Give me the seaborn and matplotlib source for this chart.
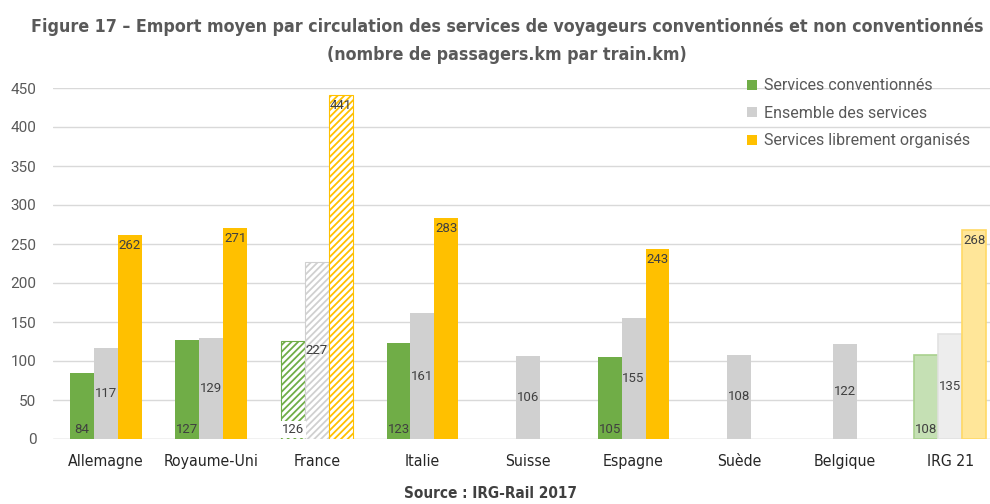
import matplotlib
matplotlib.use("Agg")
import matplotlib.pyplot as plt
from matplotlib.patches import Patch
from matplotlib import font_manager
import seaborn as sns
import pandas as pd

# Data: average load per train (passenger-km per train-km)
pays = ["Allemagne", "Royaume-Uni", "France", "Italie", "Suisse",
        "Espagne", "Suède", "Belgique", "IRG 21"]
conventionnes = [84, 127, 126, 123, None, 105, None, None, 108]
ensemble = [117, 129, 227, 161, 106, 155, 108, 122, 135]
libres = [262, 271, 441, 283, None, 243, None, None, 268]
series = ["Services conventionnés", "Ensemble des services",
          "Services librement organisés"]
yticks = [0, 50, 100, 150, 200, 250, 300, 350, 400, 450]

couleurs = ["#70AD47", "#D0D0D0", "#FFC000"]
couleurs_claires = ["#C5E0B4", "#EDEDED", "#FFE699"]
texte = "#404040"
gris_titre = "#595959"

rows = []
for s, vals in zip(series, [conventionnes, ensemble, libres]):
    for p, v in zip(pays, vals):
        if v is not None:
            rows.append({"pays": p, "serie": s, "valeur": v})
df = pd.DataFrame(rows)

sns.set_theme(style="white")
plt.rcParams["font.family"] = ["Roboto", "DejaVu Sans"]
plt.rcParams["hatch.linewidth"] = 1.3

# narrow face for title, categories and source
condensed = dict(family="DejaVu Sans", stretch="condensed")

fig = plt.figure(figsize=(9.9, 5.04), dpi=100)
ax = fig.add_axes([53 / 990, 1 - 439 / 504, 1 - 53 / 990, (439 - 88) / 504])

sns.barplot(data=df, x="pays", y="valeur", hue="serie", order=pays,
            hue_order=series, palette=couleurs, width=0.68, gap=0,
            saturation=1, errorbar=None, legend=False, ax=ax, zorder=3)

# restyle France (hatched) and IRG 21 (light) bars, then add labels
for k, cont in enumerate(ax.containers):
    vals = [conventionnes, ensemble, libres][k]
    for bar in cont:
        cx = bar.get_x() + bar.get_width() / 2
        i = int(round(cx))
        v = vals[i]
        bar.set_linewidth(0)
        if pays[i] == "France":
            bar.set_facecolor("white")
            bar.set_edgecolor(couleurs[k])
            bar.set_hatch("/////")
            bar.set_linewidth(0.8)
        elif pays[i] == "IRG 21":
            bar.set_facecolor(couleurs_claires[k])
            edge = {0: "#A9D18E", 1: "#E2E2E2", 2: "#FFD966"}[k]
            bar.set_edgecolor(edge)
            bar.set_linewidth(1.2)
        if k == 0:
            y, va = 4, "bottom"
        elif k == 1:
            y, va = v / 2, "center"
        else:
            y, va = v - 5, "top"
        bbox = None
        if pays[i] == "France" and k == 0:
            bbox = dict(facecolor="white", edgecolor="none", pad=1.5)
        ax.text(cx, y, f"{v:.0f}", ha="center", va=va, fontsize=9.5,
                color=texte, zorder=5, bbox=bbox)

ax.set_xlim(-0.5, 8.5 - 13 / 105.5)
ax.set_ylim(0, 450)
ax.set_yticks(yticks)
ax.yaxis.grid(True, color="#D9D9D9", linewidth=1)
ax.set_axisbelow(True)
for sp in ax.spines.values():
    sp.set_visible(False)
ax.axhline(0, color="#D9D9D9", linewidth=1, zorder=2)
ax.set_xlabel("")
ax.set_ylabel("")
ax.tick_params(axis="y", length=0, pad=12, labelsize=11, labelcolor=gris_titre)
ax.tick_params(axis="x", length=0, pad=11, labelcolor="#262626")
for lbl in ax.get_xticklabels():
    lbl.set_fontproperties(font_manager.FontProperties(size=11.3, **condensed))

handles = [Patch(facecolor=c, edgecolor="none") for c in couleurs]
fig.legend(handles, series, loc="upper left", bbox_to_anchor=(733 / 990, 1 - 64 / 504),
           frameon=False, fontsize=11.5, handlelength=0.6, handleheight=0.6,
           handletextpad=0.45, labelspacing=0.78, labelcolor=gris_titre)

fig.text(0.512, 1 - 27 / 504, "Figure 17 – Emport moyen par circulation des services de voyageurs conventionnés et non conventionnés",
         ha="center", va="center", fontsize=12.8, fontweight="bold",
         color=gris_titre, **condensed)
fig.text(0.512, 1 - 55 / 504, "(nombre de passagers.km par train.km)",
         ha="center", va="center", fontsize=12.8, fontweight="bold",
         color=gris_titre, **condensed)
fig.text(0.495, 1 - 494 / 504, "Source : IRG-Rail 2017", ha="center", va="center",
         fontsize=11, fontweight="bold", color="#404040", **condensed)

fig.savefig("out.png", dpi=100, facecolor="white")
